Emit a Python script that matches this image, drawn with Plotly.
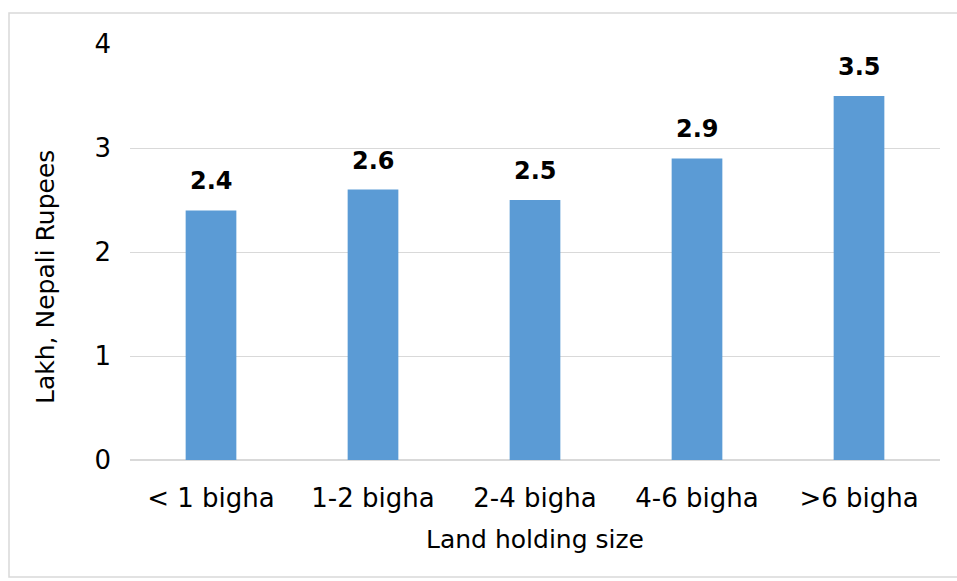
import plotly.graph_objects as go

# Average value by land holding size (lakh NPR)
categories = ["< 1 bigha", "1-2 bigha", "2-4 bigha", "4-6 bigha", ">6 bigha"]
values = [2.4, 2.6, 2.5, 2.9, 3.5]
y_ticks = [0, 1, 2, 3, 4]

W, H = 957, 581
M = dict(l=130, r=17, t=44, b=121)
pw = W - M["l"] - M["r"]
ph = H - M["t"] - M["b"]

FONT = "'DejaVu Sans', sans-serif"

fig = go.Figure(
    go.Bar(
        x=categories,
        y=values,
        marker=dict(color="#5B9BD5", line=dict(width=0)),
        width=0.313,
        hoverinfo="x+y",
    )
)

# value labels above each bar
for c, v in zip(categories, values):
    fig.add_annotation(
        x=c, y=v, text=f"<b>{v:.1f}</b>", showarrow=False,
        yanchor="bottom", yshift=13,
        font=dict(family=FONT, size=24, color="#000000"),
    )

# y-axis title
fig.add_annotation(
    xref="paper", yref="paper",
    x=(45 - M["l"]) / pw, y=(H - M["b"] - 277) / ph,
    text="Lakh, Nepali Rupees", textangle=-90, showarrow=False,
    xanchor="center", yanchor="middle",
    font=dict(family=FONT, size=25, color="#000000"),
)

fig.update_layout(
    width=W,
    height=H,
    margin=M,
    paper_bgcolor="white",
    plot_bgcolor="white",
    showlegend=False,
    font=dict(family=FONT, color="#000000"),
    xaxis=dict(
        title=dict(text="Land holding size", font=dict(size=25), standoff=18),
        tickfont=dict(size=26),
        showline=False,
        showgrid=False,
        ticks="",
        ticklabelstandoff=20,
    ),
    yaxis=dict(
        range=[0, 4],
        tickvals=y_ticks,
        tickfont=dict(size=26),
        showgrid=True,
        gridcolor="#D9D9D9",
        gridwidth=1,
        zeroline=True,
        zerolinecolor="#D9D9D9",
        zerolinewidth=2,
        ticks="",
        ticklabelstandoff=18,
    ),
    shapes=[
        dict(
            type="rect",
            xref="paper",
            yref="paper",
            x0=(9 - M["l"]) / pw,
            x1=(W + 5 - M["l"]) / pw,
            y0=-(H - 4 - (H - M["b"])) / ph,
            y1=1 + (M["t"] - 13) / ph,
            line=dict(color="#D9D9D9", width=1.5),
            fillcolor="rgba(0,0,0,0)",
            layer="below",
        )
    ],
)

fig.write_html("out.html")
